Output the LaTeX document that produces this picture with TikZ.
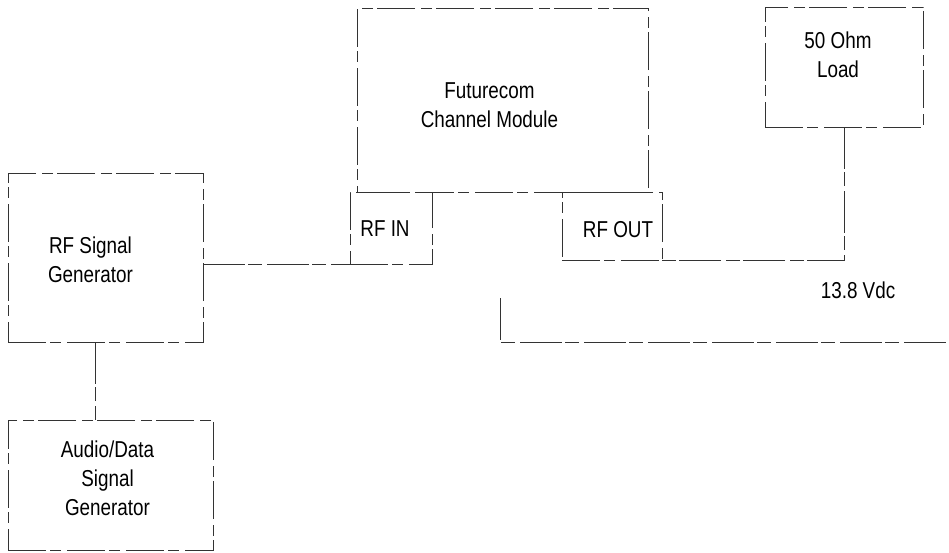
\documentclass[tikz,border=0pt]{standalone}
\usepackage{fontspec}
\newfontfamily\scanfont{Liberation Sans}[FakeStretch=0.82]
\usetikzlibrary{calc}

\begin{document}
\begin{tikzpicture}[x=1pt,y=-1pt,
	box/.style={rectangle, draw=black!80, line width=0.6pt, dash pattern=on 38pt off 4pt on 11pt off 6pt, inner sep=0},
	wire/.style={draw=black!80, line width=0.6pt, dash pattern=on 42pt off 3pt on 14pt off 5pt},
	lab/.style={font=\scanfont\fontsize{23}{29}\selectfont, align=center, inner sep=0}]
		\useasboundingbox (0,0) rectangle (949,552);

		%module and its ports
		\node[box, minimum width=291pt, minimum height=184pt] at (502.5,100) (module) {};
		\node[box, minimum width=82pt, minimum height=72pt] at (391,228) (rfin) {};
		\node[box, minimum width=100pt, minimum height=68pt] at (612,226) (rfout) {};
		\node[lab] at ([xshift=-13pt,yshift=-5pt]module.center) (modlab) {Futurecom\\Channel Module};
		\node[lab] at ([xshift=-6pt,yshift=-1pt]rfin.center) (rfinlab) {RF IN};
		\node[lab] at ([xshift=6pt,yshift=-4pt]rfout.center) (rfoutlab) {RF OUT};

		%load
		\node[box, minimum width=158pt, minimum height=120pt] at (844,67) (load) {};
		\node[lab] at ([xshift=-6pt,yshift=12pt]load.center) (loadlab) {50 Ohm\\Load};

		%generators
		\node[box, minimum width=195pt, minimum height=169pt] at (105.5,257.5) (rfgen) {};
		\node[lab] at ([xshift=-15pt,yshift=-2pt]rfgen.center) (rfgenlab) {RF Signal\\Generator};
		\node[box, minimum width=205pt, minimum height=130pt] at (110.5,485) (audio) {};
		\node[lab] at ([xshift=-3pt,yshift=7pt]audio.center) (audiolab) {Audio/Data\\Signal\\Generator};

		%supply
		\coordinate (vdctop) at (500,298);
		\coordinate (vdcbot) at (500,342);
		\coordinate (vdcend) at (949,342);
		\node[lab] at (858,290) (vdclab) {13.8 Vdc};
		\draw[wire] (vdctop) -- (vdcbot) -- (vdcend);

		%connections
		\draw[wire] (rfgen.east |- rfin.south west) -- (rfin.south west);
		\draw[wire] ([xshift=-10pt]rfgen.south) -- ([xshift=-10pt]rfgen.south |- audio.north);
		\draw[wire] (load.south) -- (load.south |- rfout.south east) -- (rfout.south east);
	\end{tikzpicture}
\end{document}
